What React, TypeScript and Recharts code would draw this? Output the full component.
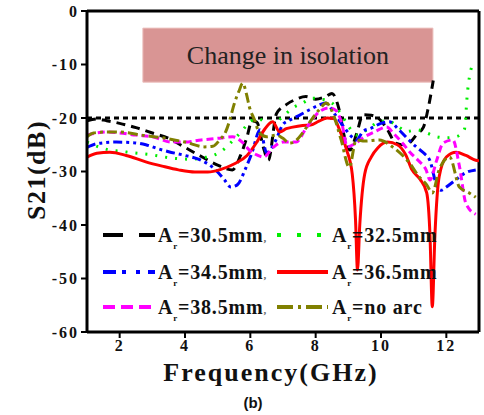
import React from 'react';
import {
  LineChart,
  Line,
  XAxis,
  YAxis,
  ReferenceLine,
  ReferenceArea,
  Legend
} from 'recharts';

// frequencies (GHz) and S21 (dB) for each arc radius
const blackFreq = [1.0, 1.3, 1.6, 2.0, 2.5, 3.0, 3.5, 4.0, 4.5, 5.0, 5.45, 5.7, 5.9, 6.05, 6.2, 6.4, 6.55, 6.8, 7.1, 7.4, 7.7, 8.0, 8.3, 8.5, 8.7, 8.9, 9.05, 9.25, 9.45, 9.7, 10.0, 10.2, 10.45, 10.7, 10.9, 11.1, 11.3, 11.45, 11.6];
const blackDb = [-20.5, -20.2, -20.5, -21.0, -21.8, -22.8, -23.8, -25.5, -27.2, -28.8, -29.7, -27, -23.5, -20.5, -20.8, -25.5, -27.9, -19.2, -17.5, -16.5, -16.0, -16.5, -16.0, -15.4, -18, -24, -26, -23, -19.4, -19.5, -20.5, -22.2, -24.7, -25, -24.5, -23, -21.7, -18, -13];

const greenFreq = [1.0, 1.4, 1.7, 2.0, 2.4, 3.0, 3.6, 4.2, 4.6, 4.9, 5.2, 5.5, 5.8, 6.0, 6.2, 6.4, 6.6, 6.9, 7.3, 7.6, 7.9, 8.2, 8.5, 8.8, 9.0, 9.25, 9.5, 9.85, 10.2, 10.5, 10.8, 11.1, 11.4, 11.7, 12.0, 12.3, 12.55, 12.65, 12.75, 12.85];
const greenDb = [-24.5, -25.5, -26.0, -26.2, -26.5, -26.9, -27.5, -27.7, -27.4, -26.9, -25.8, -24, -22, -20.6, -20.2, -20.4, -20.8, -20.2, -18.1, -17.2, -16.3, -16.5, -17.2, -19.5, -21.5, -23.2, -22.5, -21.0, -20.5, -21.5, -22.5, -22.2, -22.8, -23.5, -23.7, -23.5, -22.2, -15, -11, -9.8];

const blueFreq = [1.0, 1.3, 1.9, 2.4, 2.8, 3.2, 3.5, 4.0, 4.5, 4.9, 5.2, 5.4, 5.6, 5.85, 6.05, 6.3, 6.5, 6.75, 7.0, 7.2, 7.5, 7.8, 8.1, 8.3, 8.6, 8.9, 9.1, 9.25, 9.45, 9.7, 10.0, 10.25, 10.55, 10.85, 11.1, 11.3, 11.5, 11.7, 11.85, 12.0, 12.3, 12.6, 12.9];
const blueDb = [-25.5, -24.8, -24.5, -24.6, -25.0, -25.8, -26.3, -27.0, -27.9, -29.5, -31.5, -32.9, -32.5, -29.5, -26.5, -22.2, -26.5, -24.5, -21.2, -20.4, -19.5, -18.5, -17.6, -17.2, -19.4, -22, -23.5, -24.1, -22.5, -21.9, -21.0, -20.7, -22.2, -24.1, -25.5, -26.5, -28, -32.5, -33.5, -32.9, -31.5, -30.2, -29.7];

const redFreq = [1.0, 1.3, 1.7, 2.2, 2.8, 3.3, 3.8, 4.3, 4.7, 5.1, 5.5, 5.9, 6.2, 6.45, 6.68, 6.9, 7.1, 7.3, 7.6, 7.85, 8.1, 8.35, 8.55, 8.75, 8.95, 9.12, 9.22, 9.28, 9.35, 9.5, 9.7, 9.9, 10.2, 10.5, 10.75, 10.95, 11.2, 11.4, 11.5, 11.57, 11.65, 11.78, 12.0, 12.3, 12.6, 12.9, 13.0];
const redDb = [-27.3, -26.6, -26.4, -27.0, -28.2, -29.0, -29.7, -30.1, -30.1, -29.6, -28.6, -27.0, -24.5, -22.0, -20.7, -22.6, -22.0, -21.7, -21.4, -21.3, -20.6, -20.0, -20.1, -22.5, -26, -30.5, -39, -48.4, -40, -30.5, -27.3, -25.6, -24.5, -25.0, -26.8, -29.7, -31.5, -34, -42, -55.3, -42, -31, -27.3, -26.4, -27, -27.9, -28];

const magentaFreq = [1.0, 1.3, 1.6, 2.0, 2.5, 3.0, 3.6, 4.0, 4.5, 5.0, 5.46, 5.75, 5.97, 6.2, 6.4, 6.7, 7.0, 7.4, 7.7, 8.1, 8.4, 8.6, 8.8, 8.97, 9.2, 9.5, 9.8, 10.17, 10.4, 10.66, 10.9, 11.15, 11.38, 11.5, 11.7, 11.9, 12.2, 12.4, 12.6, 12.9];
const magentaDb = [-23.2, -22.8, -22.6, -22.8, -23.2, -23.5, -24.5, -24.5, -24.1, -23.8, -23.5, -24.5, -26, -26.9, -27.3, -25.5, -24.5, -24.5, -22, -18.9, -18.1, -18.5, -21, -25.4, -24.8, -23.5, -22.6, -21.7, -23, -24.7, -26.5, -28, -29.7, -31.6, -28, -24.7, -24.1, -29, -36, -38];

const oliveFreq = [1.0, 1.2, 1.6, 1.95, 2.3, 2.67, 3.3, 4.0, 4.6, 4.85, 5.06, 5.25, 5.37, 5.5, 5.65, 5.77, 5.88, 5.97, 6.13, 6.28, 6.5, 6.8, 7.0, 7.2, 7.4, 7.6, 7.85, 8.1, 8.33, 8.55, 8.78, 9.03, 9.24, 9.5, 9.95, 10.35, 10.87, 11.17, 11.4, 11.57, 11.78, 12.1, 12.4, 12.7, 12.9];
const oliveDb = [-23.5, -22.8, -22.6, -22.6, -22.8, -23.2, -23.7, -24.5, -25.4, -25.3, -24.1, -22.5, -20.4, -17.5, -15.0, -13.5, -15.5, -17.9, -20.4, -22.8, -23.5, -23.2, -23.8, -24.7, -24.2, -22.8, -20.5, -18.5, -17.2, -19.5, -24.1, -29.2, -24.1, -24.3, -24.1, -25.4, -28.4, -31, -32.5, -34, -29.7, -27.3, -32.9, -34, -34.8];

const xTicks = [2, 4, 6, 8, 10, 12];
const yTicks = [-60, -50, -40, -30, -20, -10, 0];

const zip = (f: number[], db: number[]) => f.map((v, i) => ({ f: v, db: db[i] }));

const SERIF = "'Liberation Serif', 'Times New Roman', 'DejaVu Serif', serif";

interface SeriesDef {
  key: string;
  label: string;
  comma: boolean;
  color: string;
  dash?: string;
  legendDash?: string;
  data: { f: number; db: number }[];
}

const series: SeriesDef[] = [
  { key: 'a305', label: '=30.5mm', comma: true, color: '#000000', dash: '9 6', legendDash: '20 16', data: zip(blackFreq, blackDb) },
  { key: 'a325', label: '=32.5mm', comma: false, color: '#00ee00', dash: '2 8', legendDash: '4 16', data: zip(greenFreq, greenDb) },
  { key: 'a345', label: '=34.5mm', comma: true, color: '#0000ff', dash: '9 4 3 4 3 4', legendDash: '13 6 4 10 4 8', data: zip(blueFreq, blueDb) },
  { key: 'a365', label: '=36.5mm', comma: false, color: '#ff0000', data: zip(redFreq, redDb) },
  { key: 'a385', label: '=38.5mm', comma: true, color: '#ff00ff', dash: '7 4', legendDash: '12 6', data: zip(magentaFreq, magentaDb) },
  { key: 'noarc', label: '=no arc', comma: false, color: '#808000', dash: '10 4 3 4', legendDash: '16 5 3 5', data: zip(oliveFreq, oliveDb) }
];

const serifBold: React.CSSProperties = { fontFamily: SERIF, fontWeight: 'bold' };

const renderLegend = () => {
  const rows = [17, 54, 89];
  const cols = [{ l0: 8, l1: 60, t: 63 }, { l0: 182, l1: 233, t: 237 }];
  return (
    <svg width={370} height={105} style={{ display: 'block', overflow: 'visible' }}>
      {series.map((s, i) => {
        const r = rows[Math.floor(i / 2)];
        const c = cols[i % 2];
        return (
          <g key={s.key}>
            <line x1={c.l0} x2={c.l1} y1={r} y2={r} stroke={s.color} strokeWidth={4} strokeDasharray={s.legendDash} />
            <text x={c.t} y={r + 7} style={{ ...serifBold, fontSize: 20, letterSpacing: 0.8 }} fill="#111">
              A
              <tspan style={{ fontSize: 9 }} dy={7}>r</tspan>
              <tspan dy={-7}>{s.label}</tspan>
              {s.comma && <tspan style={{ fontSize: 11 }} fill="#666">,</tspan>}
            </text>
          </g>
        );
      })}
    </svg>
  );
};

const renderXTitle = () => (
  <text x={271} y={381} textAnchor="middle" style={{ ...serifBold, fontSize: 26, letterSpacing: 2 }} fill="#111">
    Frequency(GHz)
  </text>
);

const renderYTitle = () => (
  <text x={45} y={170} textAnchor="middle" transform="rotate(-90 45 170)" style={{ ...serifBold, fontSize: 26, letterSpacing: 1.5 }} fill="#111">
    S21(dB)
  </text>
);

const tickStyle = { fill: '#111', style: { ...serifBold, fontSize: 16, letterSpacing: 2 } };

export default function App() {
  return (
    <div style={{ position: 'absolute', left: 0, top: 0, width: 484, height: 415, background: '#fff' }}>
      <LineChart width={484} height={415} margin={{ top: 11, right: 5, left: 0, bottom: 53 }}>
        <XAxis
          type="number"
          dataKey="f"
          domain={[1, 13]}
          ticks={xTicks}
          allowDataOverflow
          height={30}
          axisLine={{ stroke: '#000', strokeWidth: 3 }}
          tickLine={{ stroke: '#000', strokeWidth: 2 }}
          tickSize={6}
          tick={tickStyle}
          label={renderXTitle}
        />
        <YAxis
          type="number"
          domain={[-60, 0]}
          ticks={yTicks}
          allowDataOverflow
          width={87}
          axisLine={{ stroke: '#000', strokeWidth: 3 }}
          tickLine={{ stroke: '#000', strokeWidth: 2 }}
          tickSize={6}
          tick={tickStyle}
          label={renderYTitle}
        />
        <ReferenceLine y={0} stroke="#000" strokeWidth={3} />
        <ReferenceLine x={13} stroke="#000" strokeWidth={3} />
        <ReferenceLine y={-20} stroke="#000" strokeWidth={3} strokeDasharray="5 4" />
        {series.map((s) => (
          <Line
            key={s.key}
            data={s.data}
            dataKey="db"
            type="monotone"
            stroke={s.color}
            strokeWidth={3}
            strokeDasharray={s.dash}
            dot={false}
            isAnimationActive={false}
          />
        ))}
        <ReferenceArea
          x1={2.71}
          x2={11.59}
          y1={-13.3}
          y2={-3.2}
          fill="#d99594"
          fillOpacity={1}
          stroke="#ecc0be"
          label={{ value: 'Change in isolation', position: 'center', fill: '#222', style: { fontFamily: SERIF, fontSize: 26 } }}
        />
        <Legend
          layout="vertical"
          align="center"
          verticalAlign="middle"
          content={renderLegend}
          wrapperStyle={{ left: 95, top: 218, width: 370, height: 105 }}
        />
      </LineChart>
      <div style={{ position: 'absolute', left: 0, top: 394, width: 506, textAlign: 'center', fontFamily: "'Liberation Sans', Arial, sans-serif", fontWeight: 'bold', fontSize: 15, color: '#111' }}>
        (b)
      </div>
    </div>
  );
}
